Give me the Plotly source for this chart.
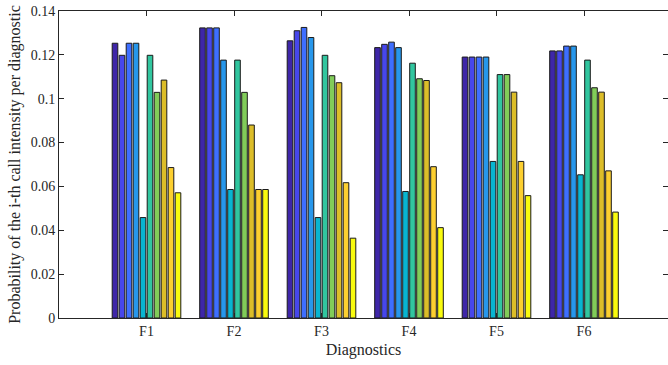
import plotly.graph_objects as go

categories = ["F1", "F2", "F3", "F4", "F5", "F6"]
x_pos = [1, 2, 3, 4, 5, 6]

# probability of the i-th call intensity, per diagnostic (10 intensities)
s1 = [0.1253, 0.1323, 0.1264, 0.1233, 0.1190, 0.1218]
s2 = [0.1198, 0.1323, 0.1310, 0.1248, 0.1190, 0.1218]
s3 = [0.1253, 0.1323, 0.1325, 0.1258, 0.1190, 0.1240]
s4 = [0.1253, 0.1176, 0.1279, 0.1233, 0.1190, 0.1240]
s5 = [0.0458, 0.0586, 0.0458, 0.0577, 0.0714, 0.0653]
s6 = [0.1198, 0.1176, 0.1198, 0.1162, 0.1110, 0.1176]
s7 = [0.1029, 0.1029, 0.1105, 0.1091, 0.1110, 0.1050]
s8 = [0.1085, 0.0880, 0.1073, 0.1083, 0.1030, 0.1030]
s9 = [0.0686, 0.0586, 0.0617, 0.0690, 0.0714, 0.0671]
s10 = [0.0571, 0.0586, 0.0364, 0.0412, 0.0558, 0.0483]
series = [s1, s2, s3, s4, s5, s6, s7, s8, s9, s10]

y_ticks = [0, 0.02, 0.04, 0.06, 0.08, 0.1, 0.12, 0.14]
y_tick_text = ["0", "0.02", "0.04", "0.06", "0.08", "0.1", "0.12", "0.14"]

parula10 = [
    (0.2422, 0.1504, 0.6603), (0.2803, 0.2782, 0.9221), (0.2440, 0.4358, 0.9988),
    (0.1540, 0.5902, 0.9218), (0.0297, 0.7082, 0.8163), (0.1938, 0.7758, 0.6251),
    (0.5044, 0.7993, 0.3480), (0.8634, 0.7406, 0.1596), (0.9892, 0.8136, 0.1885),
    (0.9763, 0.9831, 0.0538),
]
colors = ["rgb(%d,%d,%d)" % tuple(round(c * 255) for c in p) for p in parula10]

fig = go.Figure()
for i, s in enumerate(series):
    fig.add_trace(go.Bar(x=x_pos, y=s, marker=dict(color=colors[i], line=dict(color="#1a1a1a", width=1)),
                         showlegend=False, hoverinfo="skip"))
# empty helper trace so the right-hand tick axis is drawn
fig.add_trace(go.Scatter(x=[], y=[], yaxis="y2", showlegend=False, hoverinfo="skip"))

font = "Liberation Serif, Times New Roman, serif"
axcol = "#262626"
fig.update_layout(
    width=668, height=365,
    margin=dict(l=59, r=0, t=11, b=47),
    paper_bgcolor="white", plot_bgcolor="white",
    barmode="group", bargap=0.2, bargroupgap=0.2,
    font=dict(family=font, size=14, color=axcol),
    xaxis=dict(range=[0, 6.96], tickvals=x_pos, ticktext=categories, ticks="inside", ticklen=5,
               tickcolor=axcol, showline=True, linecolor=axcol, linewidth=1, mirror="ticks",
               showgrid=False, zeroline=False, automargin=False, tickfont=dict(size=14),
               title=dict(text="Diagnostics", font=dict(size=16), standoff=6)),
    yaxis=dict(range=[0, 0.14], tickvals=y_ticks, ticktext=y_tick_text, ticks="inside", ticklen=5,
               tickcolor=axcol, showline=True, linecolor=axcol, linewidth=1, mirror=False,
               showgrid=False, zeroline=False, automargin=False, tickfont=dict(size=14),
               title=dict(text="Probability of the i-th call intensity per diagnostic", font=dict(size=16), standoff=6)),
    yaxis2=dict(range=[0, 0.14], tickvals=y_ticks, overlaying="y", side="right", ticks="inside", ticklen=5,
                tickcolor=axcol, showline=False, showticklabels=False, showgrid=False, zeroline=False,
                automargin=False),
)
fig.write_html("out.html", config={"displayModeBar": False},
               post_script="document.body.style.margin='0';document.body.style.overflow='hidden';")
